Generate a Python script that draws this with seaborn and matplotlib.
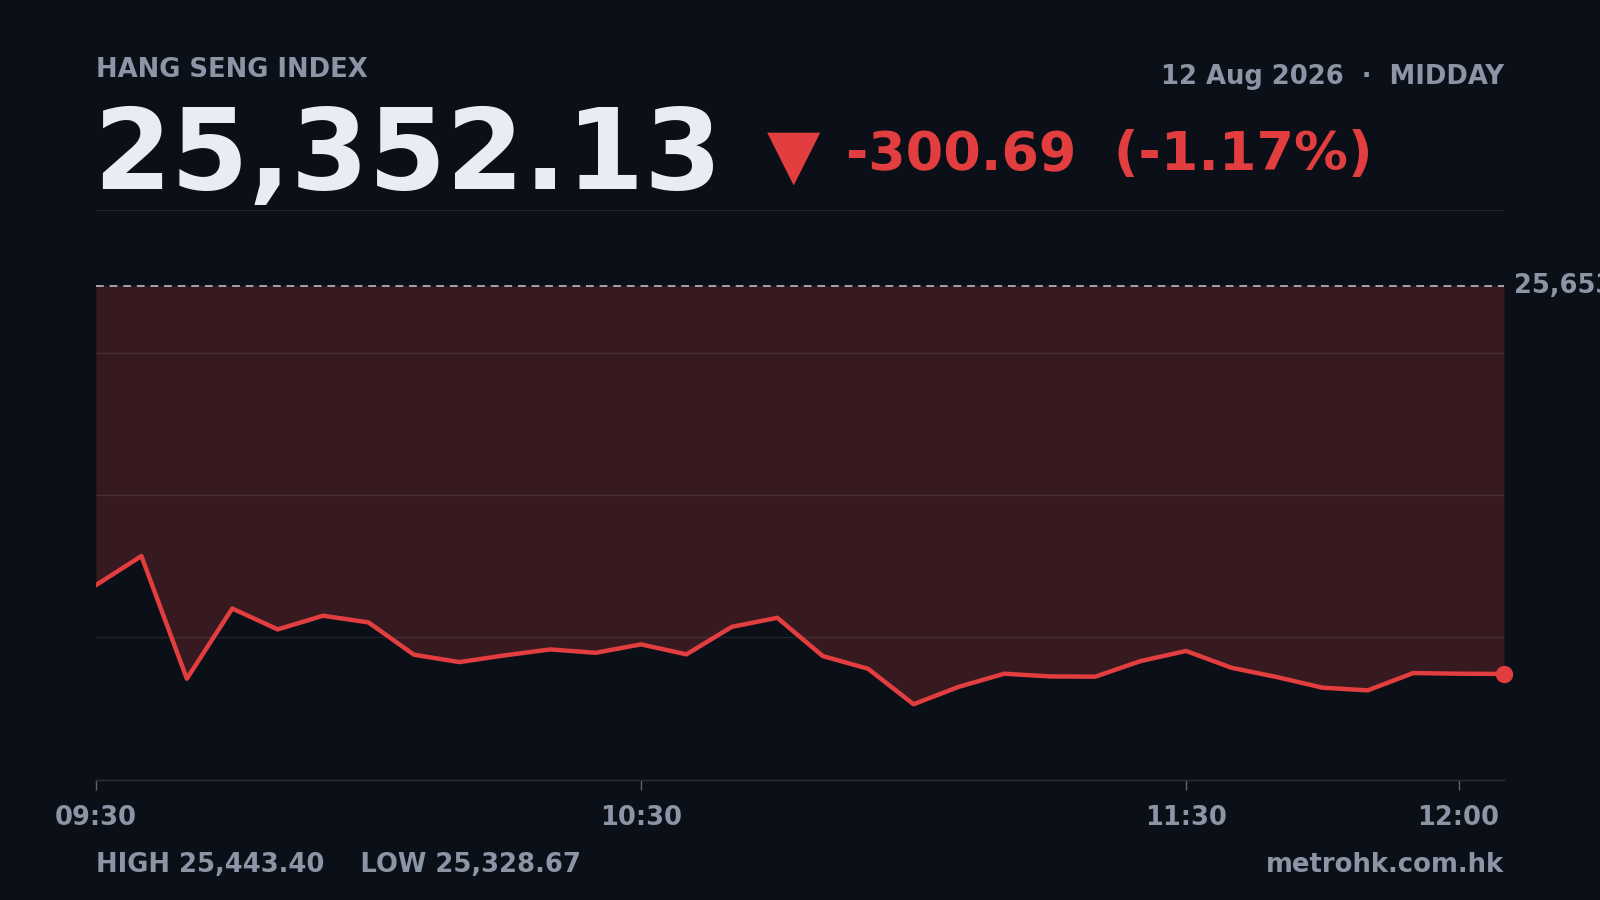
import matplotlib
matplotlib.use("Agg")
import matplotlib.pyplot as plt
import matplotlib.transforms as mtransforms
import numpy as np
import pandas as pd
import seaborn as sns

# Intraday snapshot (5-minute points, morning session)
TIMES = ["09:30", "09:35", "09:40", "09:45", "09:50", "09:55", "10:00", "10:05",
         "10:10", "10:15", "10:20", "10:25", "10:30", "10:35", "10:40", "10:45",
         "10:50", "10:55", "11:00", "11:05", "11:10", "11:15", "11:20", "11:25",
         "11:30", "11:35", "11:40", "11:45", "11:50", "11:55", "12:00", "12:05"]
VALUES = [25420.9, 25443.40, 25348.4, 25402.8, 25386.6, 25397.2, 25392.0, 25367.0,
          25361.3, 25366.5, 25371.1, 25368.5, 25375.0, 25367.3, 25388.6, 25395.6,
          25366.0, 25356.1, 25328.67, 25342.2, 25352.3, 25350.2, 25350.0, 25362.1,
          25369.9, 25356.9, 25349.7, 25341.5, 25339.4, 25352.8, 25352.3, 25352.13]
PREV_CLOSE = 25652.82
TICK_TIMES = ["09:30", "10:30", "11:30", "12:00"]

LAST = 25352.13
CHANGE = -300.69
CHANGE_PCT = -1.17
HIGH = 25443.40
LOW = 25328.67
DATE_LABEL = "12 Aug 2026  \u00b7  MIDDAY"

BG = "#0b0f17"
GREY = "#8b95a5"
WHITE = "#e8ecf5"
RED = "#e23d3f"
FILL = "#361a1f"


def to_minutes(t):
    h, m = t.split(":")
    return (int(h) - 9) * 60 + int(m) - 30


df = pd.DataFrame({"time": TIMES, "value": VALUES})
df["minute"] = df["time"].map(to_minutes)

sns.set_theme(style="dark")
plt.rcParams["font.family"] = ["DejaVu Sans"]

fig = plt.figure(figsize=(16, 9), dpi=100, facecolor=BG)
ax = fig.add_axes([0.060, 0.1338, 0.880, 0.6326])
ax.set_facecolor(BG)

pad = 0.18 * (PREV_CLOSE - LOW)
ymin, ymax = LOW - pad, PREV_CLOSE + pad
ax.set_ylim(ymin, ymax)
ax.set_xlim(df["minute"].min(), df["minute"].max())

# fill between the price line and previous close
ax.fill_between(df["minute"], df["value"], PREV_CLOSE, color=FILL, lw=0, zorder=1)

for yv in np.linspace(ymin, ymax, 5):
    ax.axhline(yv, color="white", alpha=0.09, lw=1, zorder=2)

ax.axhline(PREV_CLOSE, color="#aaa0aa", lw=1.4, ls=(0, (4, 3)), zorder=3)

sns.lineplot(data=df, x="minute", y="value", ax=ax, color=RED, lw=3.2,
             zorder=4, legend=False)
ax.plot(df["minute"].iloc[-1], df["value"].iloc[-1], "o", color=RED,
        ms=11.5, zorder=5, clip_on=False)

# previous close label, clipped by the figure edge like the original
trans = mtransforms.blended_transform_factory(ax.transAxes, ax.transData)
ax.text(1.007, PREV_CLOSE, f"{PREV_CLOSE:,.0f}", transform=trans, ha="left",
        va="center", color=GREY, fontsize=18.5, fontweight="bold", clip_on=False)

ax.set_xticks([to_minutes(t) for t in TICK_TIMES])
ax.set_xticklabels(TICK_TIMES)
ax.set_yticks([])
ax.set_xlabel("")
ax.set_ylabel("")
ax.tick_params(axis="x", bottom=True, colors="#5c6472", length=7, width=1,
               pad=11, labelcolor=GREY, labelsize=18.5)
for lab in ax.get_xticklabels():
    lab.set_fontweight("bold")
ax.grid(False)
for side in ["top", "left", "right"]:
    ax.spines[side].set_visible(False)
ax.spines["bottom"].set_color("#2a2e37")
ax.spines["bottom"].set_linewidth(1)

# header
fig.text(0.060, 0.9145, "HANG SENG INDEX", color=GREY, fontsize=18.6,
         fontweight="bold", ha="left", va="baseline")
fig.text(0.940, 0.9066, DATE_LABEL, color=GREY, fontsize=18.6,
         fontweight="bold", ha="right", va="baseline")
fig.text(0.058, 0.7896, f"{LAST:,.2f}", color=WHITE, fontsize=80.5,
         fontweight="bold", ha="left", va="baseline")
fig.text(0.4962, 0.8257, "\u25bc", color=RED, fontsize=50, ha="center",
         va="center")
fig.text(0.529, 0.8113, f"{CHANGE:,.2f}  ({CHANGE_PCT:.2f}%)", color=RED,
         fontsize=38.8, fontweight="bold", ha="left", va="baseline")

# footer
fig.text(0.060, 0.0313, f"HIGH {HIGH:,.2f}    LOW {LOW:,.2f}", color=GREY,
         fontsize=18.6, fontweight="bold", ha="left", va="baseline")
fig.text(0.940, 0.0313, "metrohk.com.hk", color=GREY, fontsize=18.6,
         fontweight="bold", ha="right", va="baseline")

fig.savefig("out.png", dpi=100, facecolor=BG)
